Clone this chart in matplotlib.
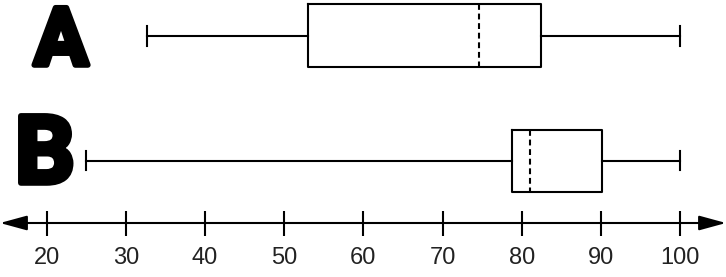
import matplotlib.pyplot as plt
from matplotlib import patheffects
from matplotlib.transforms import blended_transform_factory

# five-number summaries
groups = ['A', 'B']
lows = [32.7, 25.0]
q1s = [53.0, 78.8]
medians = [74.6, 81.1]
q3s = [82.4, 90.1]
highs = [100.0, 100.0]
ticks = [20, 30, 40, 50, 60, 70, 80, 90, 100]

fig = plt.figure(figsize=(7.26, 2.77), dpi=100)
ax = fig.add_axes([0, 0, 1, 1])
ax.set_xlim(14.1, 105.8)
ax.set_ylim(277, 0)  # y in pixels from top

stats = []
for g, lo, a, m, b, hi in zip(groups, lows, q1s, medians, q3s, highs):
    stats.append({'label': g, 'whislo': lo, 'q1': a, 'med': m, 'q3': b,
                  'whishi': hi, 'fliers': []})

lw = 1.5
ax.bxp(stats, positions=[35.5, 160.5], widths=[63, 62], capwidths=[20, 19],
       orientation='horizontal', showfliers=False, manage_ticks=False,
       boxprops=dict(color='black', linewidth=lw),
       whiskerprops=dict(color='black', linewidth=lw),
       capprops=dict(color='black', linewidth=lw),
       medianprops=dict(color='black', linewidth=lw, linestyle=(0, (2.8, 1.8))))

# group letters, x in axes fraction so they sit left of the data
tr = blended_transform_factory(ax.transAxes, ax.transData)
stroke = [patheffects.withStroke(linewidth=4, foreground='black')]
letter_font = ['Roboto', 'DejaVu Sans']
ax.text(61 / 726, 43, 'A', transform=tr, fontsize=58, fontweight='bold',
        family=letter_font, ha='center', va='center', path_effects=stroke)
ax.text(45 / 726, 157, 'B', transform=tr, fontsize=68, fontweight='bold',
        family=letter_font, ha='center', va='center', path_effects=stroke)

# number line with arrows at both ends
for s in ['top', 'left', 'right', 'bottom']:
    ax.spines[s].set_visible(False)
ax.annotate('', xy=(14.1, 223), xytext=(105.8, 223),
            arrowprops=dict(arrowstyle='<|-|>,head_length=1.65,head_width=0.45',
                            color='black', linewidth=lw, shrinkA=0, shrinkB=0))
ax.set_yticks([])
ax.set_xticks(ticks)
ax.spines['bottom'].set_position(('data', 223))
ax.tick_params(axis='x', direction='inout', length=18, width=1.5, pad=8,
               labelsize=17, colors='black')
for t in ax.get_xticklabels():
    t.set_fontfamily('Liberation Sans')
    t.set_color('#222222')

fig.savefig('out.png', dpi=100)
